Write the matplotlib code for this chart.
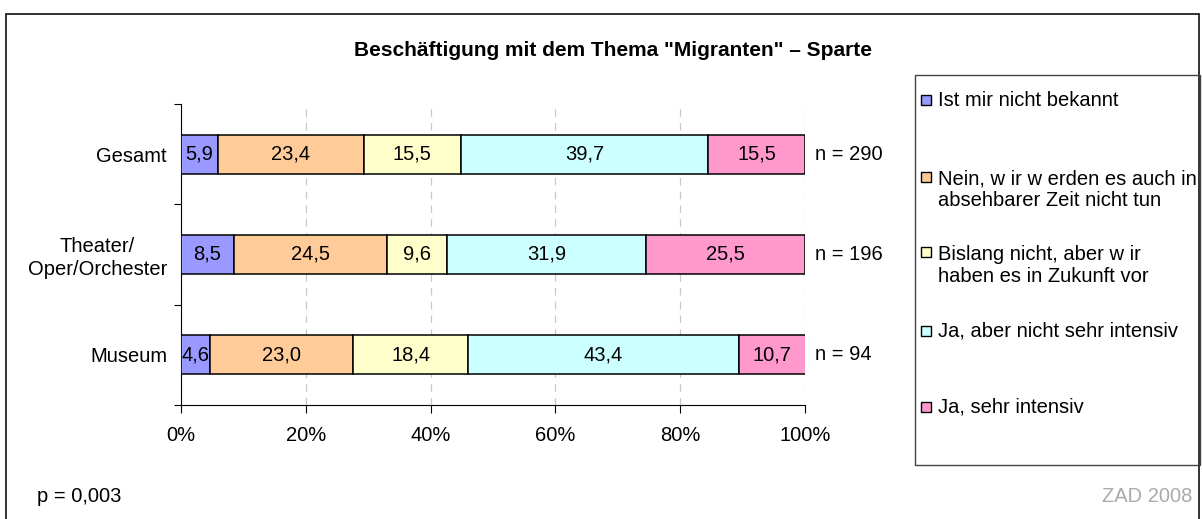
import numpy as np
import matplotlib
matplotlib.use('Agg')
import matplotlib.pyplot as plt
from matplotlib.patches import Rectangle

plt.rcParams['font.family'] = ['Liberation Sans', 'DejaVu Sans']

categories = ['Museum', 'Theater/\nOper/Orchester', 'Gesamt']
n_labels = ['n = 94', 'n = 196', 'n = 290']
series_names = ['Ist mir nicht bekannt',
                'Nein, w ir w erden es auch in\nabsehbarer Zeit nicht tun',
                'Bislang nicht, aber w ir\nhaben es in Zukunft vor',
                'Ja, aber nicht sehr intensiv',
                'Ja, sehr intensiv']
colors = ['#9999FF', '#FFCC99', '#FFFFCC', '#CCFFFF', '#FF99CC']
values = [
    [4.6, 8.5, 5.9],
    [23.0, 24.5, 23.4],
    [18.4, 9.6, 15.5],
    [43.4, 31.9, 39.7],
    [10.7, 25.5, 15.5],
]

FS = 14.5

fig = plt.figure(figsize=(12.02, 5.19), dpi=100)
ax = fig.add_axes([181/1202, 1-405/519, 624/1202, 301/519])

y = np.arange(len(categories))
left = np.zeros(len(categories))
for vals, col in zip(values, colors):
    vals = np.array(vals)
    ax.barh(y, vals, left=left, height=0.39, color=col, edgecolor='black',
            linewidth=1.1, zorder=3)
    for yi, l, v in zip(y, left, vals):
        ax.text(l + v / 2, yi, f'{v:.1f}'.replace('.', ','), ha='center',
                va='center', fontsize=FS, zorder=4)
    left += vals

for yi, n in zip(y, n_labels):
    ax.text(101.6, yi, n, ha='left', va='center', fontsize=FS)

ax.set_xlim(0, 100)
ax.set_ylim(-0.5, 2.5)
ax.set_xticks([0, 20, 40, 60, 80, 100])
ax.set_xticklabels(['0%', '20%', '40%', '60%', '80%', '100%'], fontsize=FS)
ax.set_yticks([-0.5, 0.5, 1.5, 2.5])
ax.set_yticklabels([])
ax.set_yticks(y, minor=True)
ax.set_yticklabels(categories, minor=True, fontsize=FS, multialignment='center',
                   linespacing=1.25)
ax.tick_params(axis='y', which='minor', length=0, pad=10)
ax.tick_params(axis='y', which='major', length=5, width=0.8)
ax.tick_params(axis='x', length=6, width=0.8, pad=9)
ax.grid(axis='x', linestyle=(0, (6, 5)), color='#c8c8c8', linewidth=0.9, zorder=0)
ax.spines['top'].set_visible(False)
ax.spines['right'].set_visible(False)

fig.text(0.51, 1-51/519, 'Beschäftigung mit dem Thema "Migranten" – Sparte',
         ha='center', va='center', fontsize=15, fontweight='bold')

# outer frame
fig.patches.append(Rectangle((6/1202, -0.05), 1193/1202, 1.05 - 14/519,
                             transform=fig.transFigure, fill=False,
                             edgecolor='#222222', linewidth=1.3))
# legend box
fig.patches.append(Rectangle((915/1202, 1-465/519), 285/1202, 390/519,
                             transform=fig.transFigure, fill=False,
                             edgecolor='#444444', linewidth=1.0))
legend_first = [100, 177, 252, 331, 407]
for name, col, ly in zip(series_names, colors, legend_first):
    fig.patches.append(Rectangle((921/1202, 1-(ly+5)/519), 10/1202, 10/519,
                                 transform=fig.transFigure, facecolor=col,
                                 edgecolor='black', linewidth=1.0))
    nlines = name.count('\n') + 1
    cy = ly + (nlines - 1) * 13
    fig.text(938/1202, 1-cy/519, name, ha='left', va='center', fontsize=FS,
             linespacing=1.2)

fig.text(37/1202, 1-497/519, 'p = 0,003', ha='left', va='center', fontsize=FS)
fig.text(1192/1202, 1-497/519, 'ZAD 2008', ha='right', va='center',
         fontsize=FS, color='#aaaaaa')

fig.savefig('out.png', dpi=100)
